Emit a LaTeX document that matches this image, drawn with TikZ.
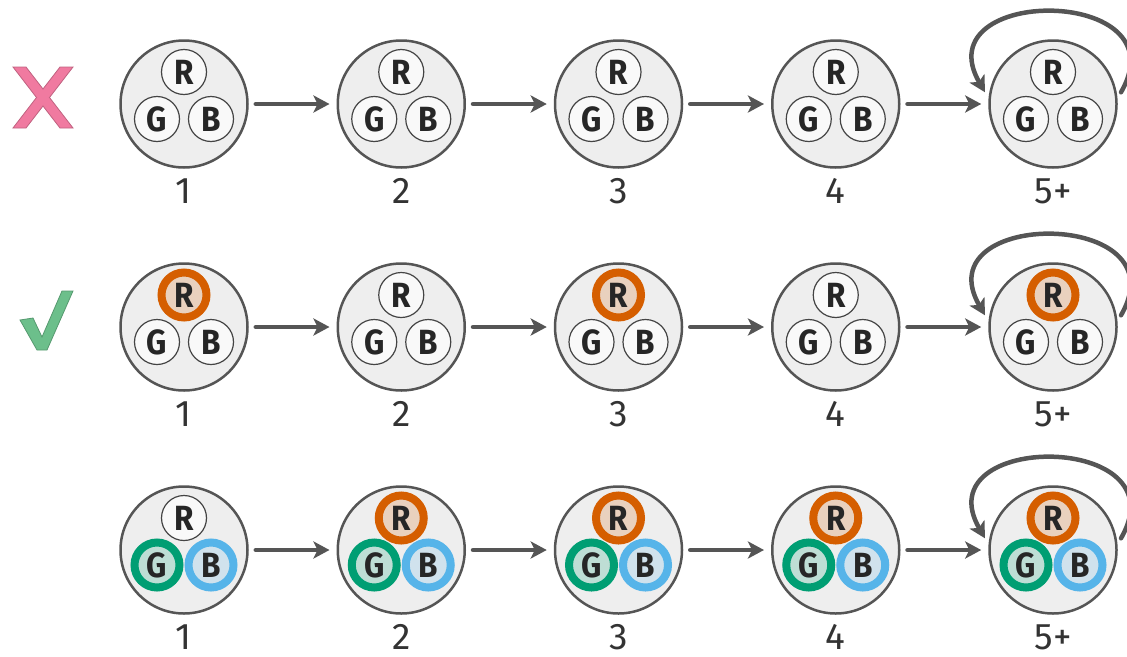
\documentclass[tikz,border=0pt]{standalone}
\usepackage{fontspec}
\newfontfamily\numfont{Fira Sans}
\newfontfamily\chanfont[FakeStretch=0.9]{Fira Sans}
\usetikzlibrary{arrows.meta}

\definecolor{cellfill}{HTML}{EEEEEE}
\definecolor{cellline}{HTML}{555555}
\definecolor{chanfill}{HTML}{F9F9F9}
\definecolor{chanline}{HTML}{444444}
\definecolor{vermil}{HTML}{D55E00}
\definecolor{bgreen}{HTML}{009E73}
\definecolor{skyblue}{HTML}{56B4E9}
\definecolor{crosspink}{HTML}{F07AA0}
\definecolor{checkgreen}{HTML}{6CBF8B}

\begin{document}
\begin{tikzpicture}[x=1pt,y=-1pt,
    cell/.style={circle, draw=cellline, fill=cellfill, line width=2.5pt, minimum size=127pt, inner sep=0pt},
    chan/.style={circle, draw=chanline, fill=chanfill, line width=1.2pt, minimum size=45pt, inner sep=0pt,
        text=black!85, font=\chanfont\bfseries\fontsize{35}{36}\selectfont},
    onR/.style={chan, draw=vermil, fill=vermil!20!cellfill, line width=8pt},
    onG/.style={chan, draw=bgreen, fill=bgreen!20!cellfill, line width=8pt},
    onB/.style={chan, draw=skyblue, fill=skyblue!20!cellfill, line width=8pt},
    num/.style={anchor=base, inner sep=0pt, text=black!80, font=\numfont\fontsize{37}{40}\selectfont},
    arr/.style={draw=cellline, line width=4.5pt, line cap=round,
        -{Stealth[length=16pt, width=17pt, inset=4pt]}, shorten <=7pt, shorten >=7pt}]
    \useasboundingbox (0,0) rectangle (1127,656);

    % the two marks in front of the first two rows
    \filldraw[fill=crosspink, draw=crosspink!80!black, line width=0.8pt]
        (13,67) -- (26,67) -- (43,89) -- (60,67) -- (73,67) -- (49.5,97.5)
        -- (73,128) -- (60,128) -- (43,106) -- (26,128) -- (13,128) -- (36.5,97.5) -- cycle;
    \filldraw[fill=checkgreen, draw=checkgreen!80!black, line width=0.8pt]
        (20,320) -- (33,318) -- (42,337) -- (62,291) -- (73,291) -- (47,350) -- (37,350) -- cycle;

    % rows: y, style of R in steps 1..5, style of G and B
    \foreach \r/\y/\rlist/\gs/\bs in {
        1/104/{chan,chan,chan,chan,chan}/chan/chan,
        2/327/{onR,chan,onR,chan,onR}/chan/chan,
        3/550/{chan,onR,onR,onR,onR}/onG/onB} {
      \foreach \rs [count=\c] in \rlist {
        \pgfmathsetmacro\x{184+217.25*(\c-1)}
        \node[cell] (cell-\r-\c) at (\x,\y) {};
        \node[\rs] (R-\r-\c) at ([shift={(0,-32)}]cell-\r-\c.center) {R};
        \node[\gs] (G-\r-\c) at ([shift={(-27,15)}]cell-\r-\c.center) {G};
        \node[\bs] (B-\r-\c) at ([shift={(27,15)}]cell-\r-\c.center) {B};
        \node[num] (step-\r-\c) at ([yshift=-99pt]cell-\r-\c.center) {\ifnum\c=5 5+\else\c\fi};
        \ifnum\c>1
          \pgfmathtruncatemacro\p{\c-1}
          \draw[arr] (cell-\r-\p) -- (cell-\r-\c);
        \fi
      }
      % step 5 repeats itself
      \draw[arr] (cell-\r-5.5) to[out=60, in=120, looseness=2.6] (cell-\r-5.175);
    }
\end{tikzpicture}
\end{document}
